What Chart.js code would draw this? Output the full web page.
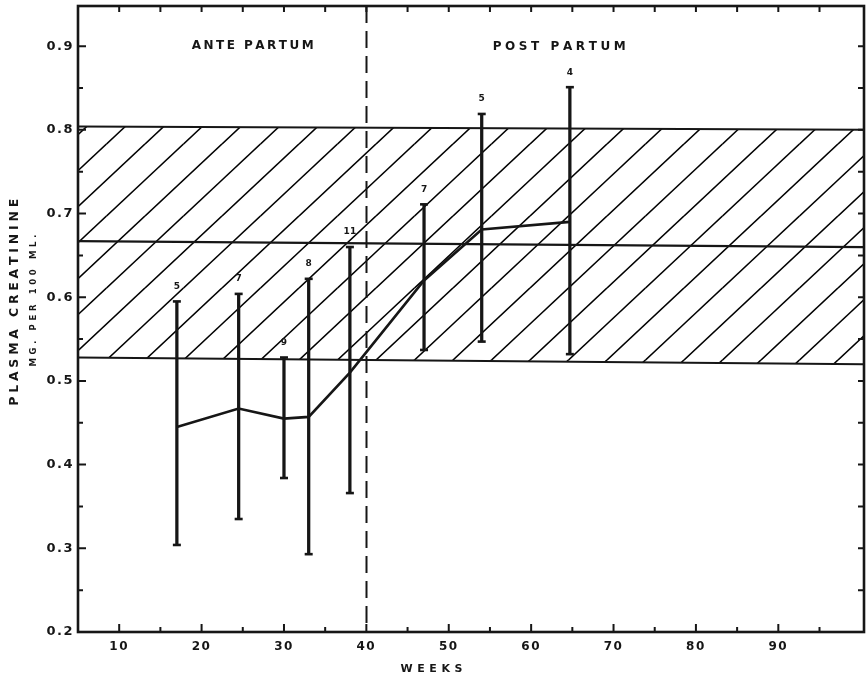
<!DOCTYPE html>
<html>
<head>
<meta charset="utf-8">
<script src="https://cdn.jsdelivr.net/npm/chart.js@4.4.1/dist/chart.umd.min.js"></script>
<style>
  html, body { margin: 0; padding: 0; background: #fff; }
  #wrap { width: 866px; height: 682px; position: relative; }
</style>
</head>
<body>
<div id="wrap"><canvas id="chart"></canvas></div>
<script>
// group means with ranges, by week (ante partum -> post partum)
const weeks = [17, 24.5, 30, 33, 38, 47, 54, 64.7];
const means = [0.445, 0.467, 0.455, 0.457, 0.51, 0.62, 0.681, 0.69];
const highs = [0.595, 0.604, 0.528, 0.622, 0.66, 0.711, 0.819, 0.851];
const lows = [0.304, 0.335, 0.384, 0.293, 0.366, 0.537, 0.547, 0.532];
const counts = ["5", "7", "9", "8", "11", "7", "5", "4"];

// normal range band (non pregnant), left and right ends
const bandX = [5, 100.4];
const bandTop = [0.804, 0.8];
const bandMid = [0.667, 0.66];
const bandLow = [0.528, 0.52];

const deliveryWeek = 40;

const xTicks = [10, 20, 30, 40, 50, 60, 70, 80, 90];
const xMinorTicks = [15, 25, 35, 45, 55, 65, 75, 85, 95];
const topTicks = [10, 15, 20, 25, 30, 35, 40, 45, 50, 55, 60, 65, 70, 75, 80, 85, 90, 95];
const yTicks = [0.2, 0.3, 0.4, 0.5, 0.6, 0.7, 0.8, 0.9];
const yMinorTicks = [0.25, 0.35, 0.45, 0.55, 0.65, 0.75, 0.85];

const ink = "#161616";
const fontFamily = "'DejaVu Sans', 'Liberation Sans', sans-serif";

function makeHatch() {
  // two strokes per tile -> 38.5px spacing
  const w = 77, h = 72;
  const c = document.createElement("canvas");
  c.width = w;
  c.height = h;
  const g = c.getContext("2d");
  g.strokeStyle = "#000";
  g.lineWidth = 1.6;
  [-w, -w / 2, 0, w / 2, w].forEach((dx) => {
    [-h, 0, h].forEach((dy) => {
      g.beginPath();
      g.moveTo(dx, h + dy);
      g.lineTo(w + dx, dy);
      g.stroke();
    });
  });
  const p = document.getElementById("chart").getContext("2d").createPattern(c, "repeat");
  p.setTransform(new DOMMatrix([1, 0, 0, 1, -9, 0]));
  return p;
}

// draws text with the letters spread to a given width
function drawSpaced(ctx, text, cx, cy, width) {
  const chars = [...text];
  const widths = chars.map((c) => ctx.measureText(c).width);
  const total = widths.reduce((a, b) => a + b, 0);
  const w = Math.max(width, total);
  const gap = chars.length > 1 ? (w - total) / (chars.length - 1) : 0;
  let x = cx - w / 2;
  ctx.textAlign = "left";
  ctx.textBaseline = "middle";
  chars.forEach((c, i) => {
    ctx.fillText(c, x, cy);
    x += widths[i] + gap;
  });
}

const framePlugin = {
  id: "frame",
  beforeDraw(chart) {
    const { ctx, width, height } = chart;
    ctx.save();
    ctx.fillStyle = "#fff";
    ctx.fillRect(0, 0, width, height);
    ctx.restore();
    if ("letterSpacing" in ctx) ctx.letterSpacing = "1.5px";
  },
  afterDraw(chart) {
    const { ctx, chartArea: a, scales } = chart;
    const x = scales.x, y = scales.y;
    ctx.save();
    if ("letterSpacing" in ctx) ctx.letterSpacing = "0px";
    ctx.strokeStyle = ink;
    ctx.fillStyle = ink;

    // dashed delivery line
    ctx.lineWidth = 2;
    ctx.setLineDash([17, 8]);
    ctx.beginPath();
    const dx = Math.round(x.getPixelForValue(deliveryWeek)) + 0.5;
    ctx.moveTo(dx, a.top);
    ctx.lineTo(dx, a.bottom);
    ctx.stroke();
    ctx.setLineDash([]);

    // inward ticks
    ctx.lineWidth = 2;
    ctx.beginPath();
    xTicks.forEach((v) => { const p = x.getPixelForValue(v); ctx.moveTo(p, a.bottom); ctx.lineTo(p, a.bottom - 8); });
    xMinorTicks.forEach((v) => { const p = x.getPixelForValue(v); ctx.moveTo(p, a.bottom); ctx.lineTo(p, a.bottom - 5); });
    topTicks.forEach((v) => { const p = x.getPixelForValue(v); ctx.moveTo(p, a.top); ctx.lineTo(p, a.top + 6); });
    yTicks.forEach((v) => {
      const p = y.getPixelForValue(v);
      ctx.moveTo(a.left, p); ctx.lineTo(a.left + 8, p);
      ctx.moveTo(a.right, p); ctx.lineTo(a.right - 6, p);
    });
    yMinorTicks.forEach((v) => {
      const p = y.getPixelForValue(v);
      ctx.moveTo(a.left, p); ctx.lineTo(a.left + 5, p);
      ctx.moveTo(a.right, p); ctx.lineTo(a.right - 6, p);
    });
    ctx.stroke();

    // frame
    ctx.lineWidth = 2.6;
    ctx.strokeRect(a.left, a.top, a.right - a.left, a.bottom - a.top);

    // group sizes above the ranges
    ctx.font = "bold 9px " + fontFamily;
    weeks.forEach((w, i) => {
      drawSpaced(ctx, counts[i], x.getPixelForValue(w), y.getPixelForValue(highs[i]) - 15, counts[i].length > 1 ? 11 : 0);
    });

    // period labels
    ctx.font = "bold 12px " + fontFamily;
    drawSpaced(ctx, "ANTE PARTUM", x.getPixelForValue(26.2), y.getPixelForValue(0.9), 122);
    drawSpaced(ctx, "POST PARTUM", x.getPixelForValue(63.4), y.getPixelForValue(0.899), 133);

    // axis titles
    ctx.font = "bold 11px " + fontFamily;
    drawSpaced(ctx, "WEEKS", x.getPixelForValue(47.9), a.bottom + 37, 62);

    ctx.save();
    ctx.translate(15, y.getPixelForValue(0.594));
    ctx.rotate(-Math.PI / 2);
    ctx.font = "bold 12.5px " + fontFamily;
    drawSpaced(ctx, "PLASMA CREATININE", 0, 0, 207);
    ctx.restore();

    ctx.save();
    ctx.translate(34, y.getPixelForValue(0.596));
    ctx.rotate(-Math.PI / 2);
    ctx.font = "bold 8.5px " + fontFamily;
    drawSpaced(ctx, "MG. PER 100 ML.", 0, 0, 132);
    ctx.restore();

    ctx.restore();
  },
};

const hatch = makeHatch();

new Chart(document.getElementById("chart"), {
  type: "line",
  data: {
    datasets: [
      {
        label: "Normal range upper",
        data: bandX.map((v, i) => ({ x: v, y: bandTop[i] })),
        borderColor: ink,
        borderWidth: 2,
        pointRadius: 0,
        backgroundColor: hatch,
        fill: "+2",
        order: 5,
      },
      {
        label: "Normal mean",
        data: bandX.map((v, i) => ({ x: v, y: bandMid[i] })),
        borderColor: ink,
        borderWidth: 2.2,
        pointRadius: 0,
        fill: false,
        order: 4,
      },
      {
        label: "Normal range lower",
        data: bandX.map((v, i) => ({ x: v, y: bandLow[i] })),
        borderColor: ink,
        borderWidth: 2,
        pointRadius: 0,
        fill: false,
        order: 3,
      },
      {
        type: "bar",
        label: "Range",
        data: weeks.map((w, i) => ({ x: w, y: [lows[i], highs[i]] })),
        backgroundColor: ink,
        borderWidth: 0,
        barThickness: 2.6,
        order: 2,
      },
      {
        type: "scatter",
        label: "Range ends",
        data: weeks.flatMap((w, i) => [{ x: w, y: highs[i] }, { x: w, y: lows[i] }]),
        pointStyle: "line",
        pointRadius: 4,
        borderColor: ink,
        borderWidth: 2.6,
        order: 1,
      },
      {
        label: "Mean",
        data: weeks.map((w, i) => ({ x: w, y: means[i] })),
        borderColor: ink,
        borderWidth: 2.6,
        pointRadius: 0,
        fill: false,
        tension: 0,
        order: 0,
      },
    ],
  },
  options: {
    responsive: true,
    maintainAspectRatio: false,
    animation: false,
    layout: { autoPadding: false, padding: { top: 6, right: 2, left: 0, bottom: 0 } },
    plugins: {
      legend: { display: false },
      tooltip: { enabled: false },
    },
    scales: {
      x: {
        type: "linear",
        min: 5,
        max: 100.4,
        offset: false,
        grid: { display: false, drawTicks: false },
        border: { display: false },
        afterBuildTicks: (s) => { s.ticks = xTicks.map((v) => ({ value: v })); },
        afterFit: (s) => { s.height = 50; s.paddingLeft = 0; s.paddingRight = 0; },
        ticks: {
          color: ink,
          padding: 8,
          maxRotation: 0,
          font: { family: fontFamily, size: 12, weight: "bold" },
          callback: (v) => String(v),
        },
      },
      y: {
        type: "linear",
        min: 0.2,
        max: 0.948,
        grid: { display: false, drawTicks: false },
        border: { display: false },
        afterBuildTicks: (s) => { s.ticks = yTicks.map((v) => ({ value: v })); },
        afterFit: (s) => { s.width = 78; s.paddingTop = 0; s.paddingBottom = 0; },
        ticks: {
          color: ink,
          padding: 4,
          font: { family: fontFamily, size: 13, weight: "bold" },
          callback: (v) => v.toFixed(1),
        },
      },
    },
  },
  plugins: [framePlugin],
});
</script>
</body>
</html>
